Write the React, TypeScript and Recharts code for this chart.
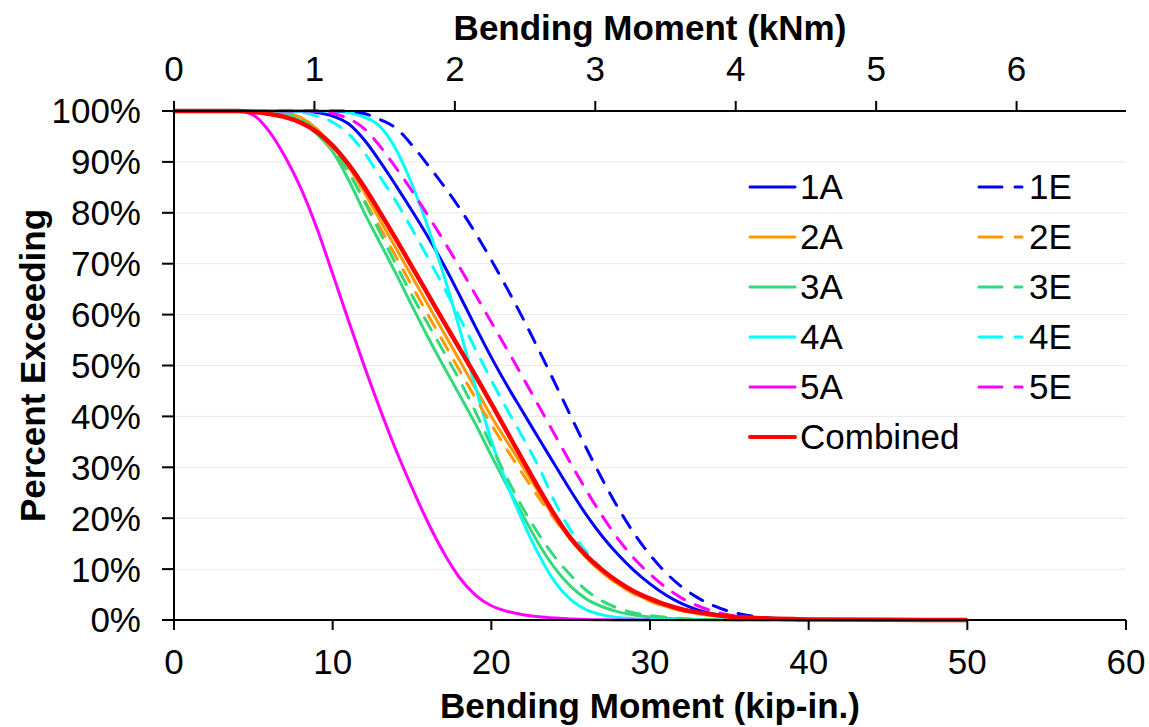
import React from "react";
import {
  LineChart,
  Line,
  XAxis,
  YAxis,
  CartesianGrid,
} from "recharts";

// bending moment, kip-in.
const kip = [
  0, 1, 2, 3, 4, 5, 6, 7, 8, 9, 10, 11, 12, 13, 14, 15, 16, 17, 18, 19, 20,
  21, 22, 23, 24, 25, 26, 27, 28, 29, 30, 31, 32, 33, 34, 35, 36, 37, 38, 39,
  40, 45, 50,
];

// percent exceeding, one value per kip entry (null = no data)
const s1A = [
  100, 100, 100, 100, 100, 100, 100, 100, 100, 99.7, 99, 97.5, 94.3, 90, 85.3,
  80.4, 75.3, 69.8, 63.8, 57.6, 51.6, 46, 40.8, 35.6, 30.5, 25.4, 20.6, 16.4,
  12.8, 9.7, 7.1, 4.9, 3.2, 2, 1.2, 0.7, 0.4, 0.2, 0.1, 0.05, 0, null, null,
];
const s2A = [
  100, 100, 100, 100, 100, 100, 100, 99.7, 98.7, 96.5, 93, 89, 84, 78.5, 73,
  67.5, 62, 56.5, 51, 45.5, 40, 35, 30, 25, 20, 15.8, 12.2, 9.3, 7, 5.2, 3.8,
  2.7, 1.9, 1.3, 0.9, 0.6, 0.4, 0.25, 0.15, 0.1, 0.05, null, null,
];
const s3A = [
  100, 100, 100, 100, 100, 100, 99.9, 99.4, 98, 95.5, 92, 86.5, 80, 74, 68,
  61.7, 55.6, 49.8, 44.2, 38.5, 32.3, 26.3, 20.5, 14.9, 10.2, 6.6, 4.1, 2.6,
  1.6, 1, 0.6, 0.35, 0.2, 0.1, 0.05, 0, 0, 0, 0, 0, 0, null, null,
];
const s4A = [
  100, 100, 100, 100, 100, 100, 100, 100, 100, 100, 100, 99.7, 98.8, 96.9,
  92.4, 85.6, 77.2, 67.8, 57.2, 45.8, 35.2, 26.6, 19.3, 12.8, 7.5, 4, 2, 1,
  0.5, 0.25, 0.1, 0.05, 0, 0, 0, 0, 0, 0, 0, 0, 0, null, null,
];
const s5A = [
  100, 100, 100, 100, 100, 99.2, 96, 91, 84.8, 77, 68, 58.8, 49.8, 41.3, 33.3,
  26, 19.2, 13.2, 8.3, 4.9, 2.8, 1.7, 1.05, 0.65, 0.4, 0.22, 0.1, 0.04, 0, 0,
  0, null, null, null, null, null, null, null, null, null, null, null, null,
];
const s1E = [
  100, 100, 100, 100, 100, 100, 100, 100, 100, 100, 100, 100, 99.5, 98.3,
  96.6, 93.3, 89.4, 85.3, 80.9, 76, 70.7, 65.1, 59.2, 53, 46.6, 40.1, 33.7,
  27.6, 22, 17, 12.8, 9.3, 6.5, 4.4, 2.8, 1.7, 1, 0.55, 0.28, 0.12, 0.05,
  null, null,
];
const s2E = [
  100, 100, 100, 100, 100, 100, 100, 99.6, 98.5, 96, 92.3, 88, 82.5, 77, 71.3,
  65.6, 60, 54.5, 49, 43.6, 38.4, 33.4, 28.6, 24, 19.8, 15.8, 12.3, 9.4, 7,
  5.1, 3.7, 2.6, 1.8, 1.2, 0.8, 0.5, 0.3, 0.2, 0.1, 0.05, 0, null, null,
];
const s3E = [
  100, 100, 100, 100, 100, 100, 99.9, 99.5, 98.3, 96, 92.6, 88, 82.2, 76,
  69.8, 63.8, 58.2, 52.7, 47.1, 40.9, 34.2, 27.8, 21.9, 16.8, 12.4, 8.8, 5.8,
  3.7, 2.3, 1.4, 0.9, 0.55, 0.3, 0.15, 0.08, 0.03, 0, 0, 0, 0, 0, null, null,
];
const s4E = [
  100, 100, 100, 100, 100, 100, 100, 100, 99.8, 99, 97.8, 95.5, 91.8, 87,
  82.2, 76.8, 71.2, 65.4, 59.4, 53.2, 47.1, 41.3, 35.8, 30, 23.2, 17.6, 13.3,
  10, 7.6, 5.7, 4.2, 3, 2.1, 1.4, 0.9, 0.6, 0.4, 0.25, 0.15, 0.08, 0.04, null,
  null,
];
const s5E = [
  100, 100, 100, 100, 100, 100, 100, 100, 100, 100, 99.5, 98.5, 96.5, 93,
  88.8, 84.3, 79.5, 74.5, 69.3, 63.9, 58.5, 53.1, 47.6, 42, 36.4, 30.8, 25.4,
  20.4, 15.9, 12.1, 9, 6.4, 4.3, 2.8, 1.7, 1, 0.55, 0.3, 0.15, 0.07, 0.03,
  null, null,
];
const combined = [
  100, 100, 100, 100, 100, 99.8, 99.4, 98.8, 97.7, 95.9, 93.2, 89.5, 85, 80,
  74.8, 69.4, 64, 58.6, 53.3, 48, 42.5, 36.9, 31.3, 25.8, 20.6, 16.1, 12.6,
  9.8, 7.5, 5.6, 4.2, 3, 2.1, 1.5, 1.05, 0.7, 0.5, 0.35, 0.25, 0.18, 0.12,
  0.03, 0,
];

const kipTicks = [0, 10, 20, 30, 40, 50, 60];
const knmTicks = [0, 1, 2, 3, 4, 5, 6];
const pctTicks = [0, 10, 20, 30, 40, 50, 60, 70, 80, 90, 100];
const KIP_PER_KNM = 8.8507;

const series = [
  { key: "1A", values: s1A, color: "#0000FF", dashed: false },
  { key: "2A", values: s2A, color: "#FF9900", dashed: false },
  { key: "3A", values: s3A, color: "#33D97A", dashed: false },
  { key: "4A", values: s4A, color: "#00FFFF", dashed: false },
  { key: "5A", values: s5A, color: "#FF00FF", dashed: false },
  { key: "1E", values: s1E, color: "#0000FF", dashed: true },
  { key: "2E", values: s2E, color: "#FF9900", dashed: true },
  { key: "3E", values: s3E, color: "#33D97A", dashed: true },
  { key: "4E", values: s4E, color: "#00FFFF", dashed: true },
  { key: "5E", values: s5E, color: "#FF00FF", dashed: true },
];

const data = kip.map((x, i) => {
  const row: Record<string, number | null> = {
    x,
    knm: x / KIP_PER_KNM,
    Combined: combined[i],
  };
  series.forEach((s) => (row[s.key] = s.values[i]));
  return row;
});

const FONT = "'Liberation Sans', Arial, sans-serif";
const FS = 35;
const tickStyle = { fontSize: FS, fill: "#000", fontFamily: FONT };
const axisStroke = { stroke: "#000", strokeWidth: 2 };
const titleStyle = { fontSize: FS, fontWeight: 700, fill: "#000", fontFamily: FONT };

const LegendRow = ({ color, dashed, label, x, y, width = 3 }: any) => (
  <div style={{ position: "absolute", left: x, top: y - 25, height: 50, display: "flex", alignItems: "center" }}>
    <svg width={50} height={10} style={{ marginRight: 2 }}>
      <line
        x1={2}
        x2={47}
        y1={5}
        y2={5}
        stroke={color}
        strokeWidth={width}
        strokeLinecap="round"
        strokeDasharray={dashed ? "23 13 7" : undefined}
      />
    </svg>
    <span style={{ fontFamily: FONT, fontSize: FS, color: "#000", lineHeight: "50px" }}>{label}</span>
  </div>
);

export default function App() {
  const left = series.filter((s) => !s.dashed);
  const right = series.filter((s) => s.dashed);
  return (
    <div style={{ position: "absolute", left: 0, top: 0, width: 1149, height: 727, background: "#fff" }}>
      <LineChart
        width={1149}
        height={727}
        data={data}
        margin={{ top: 0, right: 23, bottom: 0, left: 0 }}
        style={{ fontFamily: FONT }}
      >
        <CartesianGrid xAxisId="kip" horizontal vertical={false} stroke="#E8E8E8" strokeWidth={1} />
        <XAxis
          xAxisId="kip"
          dataKey="x"
          type="number"
          domain={[0, 60]}
          ticks={kipTicks}
          height={107}
          tick={tickStyle}
          tickSize={10}
          tickMargin={19}
          axisLine={axisStroke}
          tickLine={axisStroke}
          label={{ value: "Bending Moment (kip-in.)", position: "insideBottom", offset: 9, style: titleStyle }}
        />
        <XAxis
          xAxisId="knm"
          dataKey="knm"
          orientation="top"
          type="number"
          domain={[0, 60 / KIP_PER_KNM]}
          allowDataOverflow
          ticks={knmTicks}
          height={111}
          tick={tickStyle}
          tickSize={10}
          tickMargin={20}
          axisLine={axisStroke}
          tickLine={axisStroke}
          label={{ value: "Bending Moment (kNm)", position: "insideTop", offset: 15, style: titleStyle }}
        />
        <YAxis
          type="number"
          domain={[0, 100]}
          ticks={pctTicks}
          width={174}
          tick={tickStyle}
          tickSize={12}
          tickMargin={21}
          tickFormatter={(v) => `${v}%`}
          axisLine={axisStroke}
          tickLine={axisStroke}
          label={{
            value: "Percent Exceeding",
            angle: -90,
            position: "insideLeft",
            offset: 33,
            style: { ...titleStyle, textAnchor: "middle" },
          }}
        />
        {series.map((s) => (
          <Line
            key={s.key}
            xAxisId="kip"
            dataKey={s.key}
            type="monotone"
            stroke={s.color}
            strokeWidth={3}
            strokeDasharray={s.dashed ? "14 12" : undefined}
            strokeLinecap="round"
            dot={false}
            activeDot={false}
            isAnimationActive={false}
          />
        ))}
        <Line
          xAxisId="kip"
          dataKey="Combined"
          type="monotone"
          stroke="#FF0000"
          strokeWidth={4.5}
          dot={false}
          activeDot={false}
          isAnimationActive={false}
        />
      </LineChart>
      {left.map((s, i) => (
        <LegendRow key={s.key} color={s.color} label={s.key} x={748} y={187 + i * 50} />
      ))}
      <LegendRow color="#FF0000" label="Combined" x={748} y={437} width={4} />
      {right.map((s, i) => (
        <LegendRow key={s.key} color={s.color} dashed label={s.key} x={977} y={187 + i * 50} />
      ))}
    </div>
  );
}
